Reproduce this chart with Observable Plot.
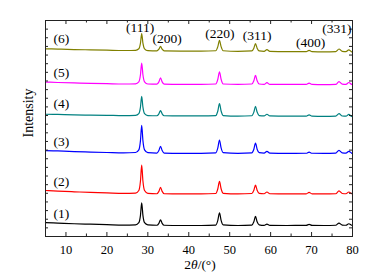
<!DOCTYPE html>
<html>
<head>
<meta charset="utf-8">
<script src="https://cdn.jsdelivr.net/npm/d3@7"></script>
<script src="https://cdn.jsdelivr.net/npm/@observablehq/plot@0.6"></script>
<style>
  html, body { margin: 0; padding: 0; background: #fff; }
  #chart { width: 368px; height: 280px; }
  #chart svg text { font-family: 'Liberation Serif', 'Times New Roman', serif; }
</style>
</head>
<body>
<div id="chart"></div>
<script>
const x2theta = [5, 8, 12, 16, 20, 24, 27.0, 27.8, 28.2, 28.5, 28.8, 29.2, 30.0, 32.2, 32.7, 33.1, 33.5, 34.0, 38, 43, 46.6, 47.1, 47.5, 47.9, 48.4, 52, 55.4, 55.9, 56.3, 56.7, 57.2, 58.4, 59.1, 59.8, 64, 68.7, 69.4, 70.1, 73, 75.9, 76.7, 77.5, 78.4, 79.1, 79.8, 80];

const s1 = [1.3,1.1,0.8,0.6,0.4,0.2, 0.3,1.3,4.7,10.5,4.7,1.3,0.3, 0.1,1.0,2.6,1.0,0.1, 0,0, 0.2,2.4,5.8,2.4,0.3, 0, 0.2,1.7,4.2,1.7,0.3, 0.05,0.6,0.05, 0, 0.05,0.5,0.05, 0, 0.1,1.1,0.2, 0.1,0.8,0.1,0];
const s2 = [1.6,1.3,1.0,0.7,0.5,0.3, 0.4,1.6,6.0,13.3,6.0,1.6,0.3, 0.1,1.2,3.0,1.2,0.1, 0,0, 0.2,2.4,5.8,2.4,0.3, 0, 0.2,1.7,4.1,1.7,0.3, 0.1,0.9,0.1, 0, 0.05,0.7,0.05, 0, 0.1,1.4,0.2, 0.1,0.9,0.1,0];
const s3 = [1.3,1.1,0.8,0.6,0.4,0.2, 0.4,1.6,5.9,13.0,5.9,1.6,0.3, 0.1,1.3,3.2,1.3,0.1, 0,0, 0.2,2.5,6.1,2.5,0.3, 0, 0.2,1.9,4.7,1.9,0.3, 0.1,0.9,0.1, 0, 0.05,0.6,0.05, 0, 0.1,1.4,0.2, 0.1,0.9,0.1,-0.1];
const s4 = [0.8,0.7,0.5,0.4,0.3,0.15, 0.3,1.1,4.1,9.1,4.1,1.1,0.2, 0.1,1.0,2.5,1.0,0.1, 0,0, 0.2,2.3,5.7,2.3,0.2, -0.1, 0.1,1.8,4.4,1.8,0.2, 0,0.8,0, -0.1, -0.1,0.5,-0.1, -0.2, -0.1,1.1,0, -0.1,0.7,-0.2,-0.3];
const s5 = [1.1,0.9,0.7,0.5,0.35,0.2, 0.3,1.2,4.5,9.9,4.5,1.2,0.2, 0.1,1.2,3.0,1.2,0.1, 0,0, 0.2,2.4,5.8,2.4,0.2, 0, 0.2,1.7,4.2,1.7,0.2, 0,0.8,0, 0, 0,0.6,0, -0.1, 0,1.3,0.1, 0,0.9,0,-0.1];
const s6 = [1.0,0.85,0.65,0.5,0.35,0.2, 0.25,1.0,3.6,8.0,3.6,1.0,0.15, 0,0.8,2.1,0.8,0, -0.05,-0.1, 0.1,2.0,4.9,2.0,0.1, -0.2, 0,1.3,3.4,1.3,0, -0.2,0.6,-0.2, -0.3, -0.3,0.3,-0.3, -0.4, -0.3,0.9,-0.2, -0.3,0.5,-0.4,-0.5];

const seriesValues = [s1, s2, s3, s4, s5, s6];
const offsets = [5.1, 19.7, 38.5, 55.8, 70.4, 85.9];
const seriesNames = ["(1)", "(2)", "(3)", "(4)", "(5)", "(6)"];
const seriesColors = ["#000000", "#ff0000", "#0000ff", "#008080", "#ff00ff", "#808000"];

const hklLabels = ["(111)", "(200)", "(220)", "(311)", "(400)", "(331)"];
const xTicksMajor = [10, 20, 30, 40, 50, 60, 70, 80];
const xTicksMinor = [5, 15, 25, 35, 45, 55, 65, 75];
const yTicks = d3.range(0, 101, 4);

// ---- Build table ----
const rows = [];
seriesValues.forEach((arr, i) => {
  arr.forEach((v, j) => rows.push({ x: x2theta[j], y: v + offsets[i], s: i }));
});

const seriesLabelRows = seriesNames.map((name, i) => ({ name, x: 8.9, y: offsets[i] + 5.6 }));

// annotation anchors (data coordinates)
const hklRows = [
  { t: hklLabels[0], x: 28.1, y: 96.6 },
  { t: hklLabels[1], x: 34.7, y: 91.5 },
  { t: hklLabels[2], x: 47.6, y: 94.0 },
  { t: hklLabels[3], x: 56.7, y: 92.8 },
  { t: hklLabels[4], x: 69.8, y: 89.7 },
  { t: hklLabels[5], x: 76.2, y: 96.3 }
];

const FONT = "'Liberation Serif', 'Times New Roman', serif";
const tickLenX = 4 / 216 * 100;   // inward tick length in y units
const tickLenXm = 2.5 / 216 * 100;
const tickLenY = 3 / 307 * 75;

const marks = [];
seriesValues.forEach((_, i) => {
  marks.push(Plot.line(rows.filter(r => r.s === i), {
    x: "x", y: "y", stroke: seriesColors[i], strokeWidth: 1.2, curve: "monotone-x"
  }));
});

// inward ticks: bottom & top
marks.push(Plot.ruleX(xTicksMajor, { x: d => d, y1: 0, y2: tickLenX, stroke: "#222" }));
marks.push(Plot.ruleX(xTicksMinor, { x: d => d, y1: 0, y2: tickLenXm, stroke: "#222" }));
marks.push(Plot.ruleX(xTicksMajor, { x: d => d, y1: 100, y2: 100 - tickLenX, stroke: "#222" }));
marks.push(Plot.ruleX(xTicksMinor, { x: d => d, y1: 100, y2: 100 - tickLenXm, stroke: "#222" }));
// inward ticks: left & right
marks.push(Plot.ruleY(yTicks, { y: d => d, x1: 5, x2: 5 + tickLenY, stroke: "#222" }));
marks.push(Plot.ruleY(yTicks, { y: d => d, x1: 80, x2: 80 - tickLenY, stroke: "#222" }));

marks.push(Plot.frame({ stroke: "#222", strokeWidth: 1 }));

marks.push(Plot.axisX({ ticks: xTicksMajor, tickSize: 0, tickPadding: 9, label: null, fontSize: 12.5, fill: "#000", fontFamily: FONT }));

marks.push(Plot.text(seriesLabelRows, { x: "x", y: "y", text: "name", fontSize: 13.5, fill: "#000", fontFamily: FONT }));
marks.push(Plot.text(hklRows, { x: "x", y: "y", text: "t", fontSize: 13.5, fill: "#000", fontFamily: FONT }));

marks.push(Plot.text(["Intensity"], { frameAnchor: "left", dx: -17, dy: 9, rotate: -90, fontSize: 14, fill: "#000", fontFamily: FONT }));
marks.push(Plot.text(["2θ/(°)"], { frameAnchor: "bottom", dy: 32, dx: 1, fontSize: 13.5, fill: "#000", fontFamily: FONT }));

const chart = Plot.plot({
  width: 368,
  height: 280,
  marginLeft: 45,
  marginRight: 16,
  marginTop: 20,
  marginBottom: 44,
  style: { fontFamily: FONT, fontSize: "12px", background: "#fff", color: "#000" },
  x: { domain: [5, 80], axis: null },
  y: { domain: [0, 100], axis: null },
  marks
});

d3.select(chart).selectAll("text").each(function () {
  const el = d3.select(this);
  if (el.text() === "2θ/(°)") {
    el.html('2<tspan font-style="italic">θ</tspan>/(°)');
  }
});

document.getElementById("chart").appendChild(chart);
</script>
</body>
</html>
